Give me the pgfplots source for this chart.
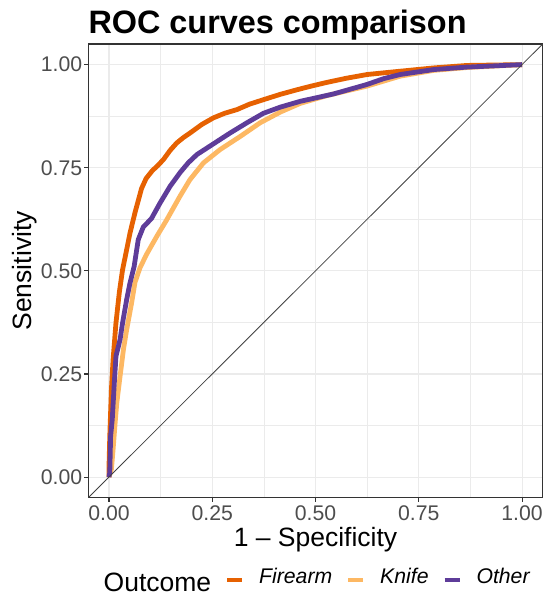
\documentclass[border=0pt]{standalone}
\usepackage{fontspec}
\setmainfont{Liberation Sans}
\usepackage{pgfplots}
\pgfplotsset{compat=1.18}
\definecolor{firearm}{HTML}{E66101}
\definecolor{knife}{HTML}{FDB863}
\definecolor{other}{HTML}{5E3C99}
\definecolor{gridgray}{HTML}{EBEBEB}
\definecolor{bordergray}{HTML}{333333}
\definecolor{tickgray}{HTML}{4D4D4D}
\newcommand{\basefont}{\fontsize{26.5}{30}\selectfont}
\newcommand{\smallfont}{\fontsize{21.2}{24}\selectfont}
\begin{document}
\begin{tikzpicture}
\useasboundingbox (0,0) rectangle (543pt,596pt);
\begin{axis}[
    at={(88.3pt,98.3pt)}, anchor=south west,
    scale only axis, width=454.4pt, height=453.7pt,
    xmin=-0.05, xmax=1.05, ymin=-0.05, ymax=1.05,
    xtick={0,0.25,0.5,0.75,1}, ytick={0,0.25,0.5,0.75,1},
    xticklabels={0.00,0.25,0.50,0.75,1.00},
    yticklabels={0.00,0.25,0.50,0.75,1.00},
    minor xtick={0.125,0.375,0.625,0.875},
    minor ytick={0.125,0.375,0.625,0.875},
    grid=both,
    major grid style={draw=gridgray, line width=1.1pt},
    minor grid style={draw=gridgray, line width=0.55pt},
    xtick pos=bottom, ytick pos=left,
    tick align=outside, major tick length=4pt, minor tick length=0pt,
    tick style={draw=bordergray, line width=1.1pt},
    axis line style={draw=bordergray, line width=1.1pt},
    /pgf/number format/assume math mode=true,
    xticklabel style={font=\smallfont, text=tickgray, inner sep=0pt, anchor=north, yshift=-3.3pt},
    yticklabel style={font=\smallfont, text=tickgray, inner sep=0pt, anchor=east, xshift=-2pt},
    title={\textbf{ROC curves comparison}},
    every axis title shift=0pt,
    title style={at={(axis description cs:0,1.0229)}, anchor=base west, inner sep=0pt, font=\fontsize{32.4}{34}\selectfont},
    xlabel={1 -- Specificity},
    xlabel style={at={(axis description cs:0.5,-0.108)}, anchor=base, inner sep=0pt, font=\basefont},
    ylabel={Sensitivity},
    ylabel style={at={(axis description cs:-0.1239,0.5)}, rotate=0, anchor=base, inner sep=0pt, font=\basefont},
    legend columns=-1,
    legend cell align=left,
    legend style={at={(axis description cs:0.0339,-0.1741)}, anchor=base west,
        draw=none, fill=none, inner sep=0pt, outer sep=0pt, column sep=0pt,
        nodes={inner sep=0pt, outer sep=0pt}, font=\smallfont},
    legend image code/.code={%
        \draw[#1, line width=4pt, line cap=butt] (16pt,-3pt) -- (31pt,-3pt);
        \path[draw=none, fill=none] (0pt,0pt) -- (48pt,0pt);},
]
\addlegendimage{empty legend}
\addlegendentry[yshift=-6pt, font=\basefont]{Outcome}

% Firearm
\addplot[firearm, line width=4.8pt, line join=round] coordinates {
(0,0) (0.000,0.02) (0.002,0.099) (0.006,0.213) (0.010,0.285) (0.017,0.374)
(0.025,0.447) (0.033,0.503) (0.043,0.552) (0.051,0.592) (0.063,0.641)
(0.079,0.700) (0.090,0.724) (0.105,0.743) (0.118,0.755) (0.132,0.770)
(0.148,0.792) (0.164,0.810) (0.180,0.823) (0.196,0.834) (0.225,0.855)
(0.253,0.871) (0.280,0.882) (0.310,0.891) (0.340,0.904) (0.374,0.915)
(0.415,0.928) (0.455,0.939) (0.490,0.948) (0.528,0.957) (0.575,0.967)
(0.625,0.976) (0.705,0.984) (0.786,0.992) (0.867,0.998) (1,1)
};
\addlegendentry{\itshape Firearm}

% Knife
\addplot[knife, line width=4.8pt, line join=round] coordinates {
(0,0) (0.006,0.019) (0.010,0.067) (0.015,0.132) (0.019,0.180) (0.025,0.229)
(0.035,0.309) (0.043,0.358) (0.055,0.423) (0.063,0.472) (0.075,0.507)
(0.091,0.540) (0.116,0.584) (0.140,0.624) (0.172,0.681) (0.196,0.721)
(0.229,0.762) (0.269,0.794) (0.318,0.826) (0.366,0.859) (0.415,0.885)
(0.463,0.906) (0.528,0.925) (0.625,0.948) (0.705,0.972) (0.786,0.986)
(0.867,0.993) (1,1)
};
\addlegendentry{\itshape Knife}

% Other
\addplot[other, line width=4.8pt, line join=round] coordinates {
(0,0) (0.002,0.011) (0.004,0.099) (0.008,0.140) (0.013,0.229) (0.017,0.293)
(0.027,0.334) (0.033,0.374) (0.043,0.431) (0.051,0.471) (0.061,0.511)
(0.071,0.576) (0.083,0.606) (0.103,0.627) (0.124,0.665) (0.148,0.705)
(0.172,0.738) (0.192,0.762) (0.213,0.782) (0.253,0.808) (0.293,0.834)
(0.334,0.859) (0.374,0.882) (0.415,0.897) (0.463,0.911) (0.544,0.929)
(0.625,0.952) (0.665,0.966) (0.705,0.976) (0.786,0.988) (0.867,0.994) (1,1)
};
\addlegendentry{\itshape Other}

% reference diagonal
\addplot[black!75, line width=0.8pt, forget plot] coordinates {(-0.05,-0.05) (1.05,1.05)};
\end{axis}
\end{tikzpicture}
\end{document}
